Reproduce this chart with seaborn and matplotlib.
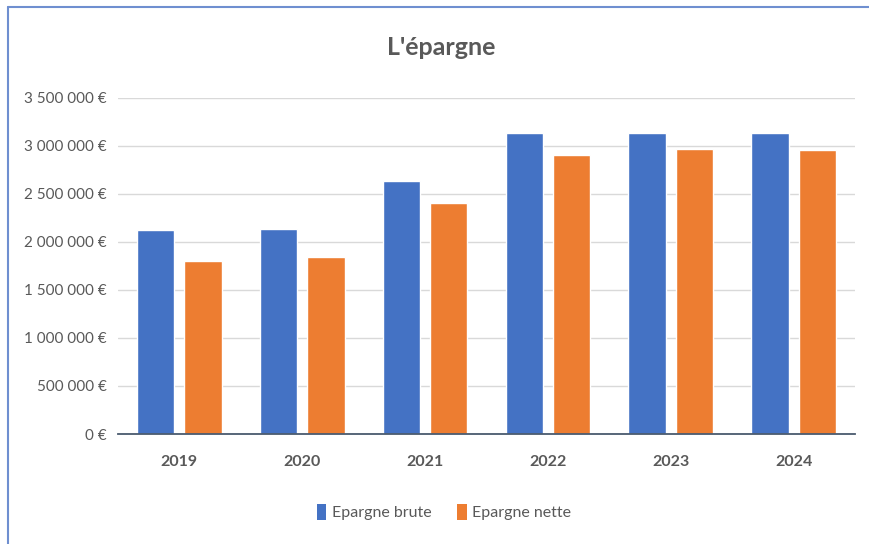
import matplotlib
matplotlib.use("Agg")
import matplotlib.pyplot as plt
import seaborn as sns
import pandas as pd
from matplotlib.ticker import FuncFormatter
from matplotlib.patches import Patch
from matplotlib.lines import Line2D

years = ["2019", "2020", "2021", "2022", "2023", "2024"]
brute = [2130000, 2140000, 2640000, 3140000, 3140000, 3140000]
nette = [1800000, 1840000, 2410000, 2910000, 2970000, 2960000]
series = ["Epargne brute", "Epargne nette"]
colors = ["#4472C4", "#ED7D31"]

df = pd.DataFrame({
    "year": years * 2,
    "value": brute + nette,
    "serie": [series[0]] * len(years) + [series[1]] * len(years),
})

sns.set_theme(style="white")
plt.rcParams["font.family"] = ["Lato", "DejaVu Sans"]

fig = plt.figure(figsize=(8.69, 5.44), dpi=100)
ax = fig.add_axes([0.1358, 0.2022, 0.8482, 0.6177])

sns.barplot(data=df, x="year", y="value", hue="serie", palette=colors,
            width=0.77, gap=0.21, ax=ax, legend=False, saturation=1)

ax.set_ylim(0, 3500000)
ax.set_yticks(range(0, 3500001, 500000))

def fmt(v, pos):
    s = f"{int(v):,}".replace(",", " ")
    return f"{s} €"

ax.yaxis.set_major_formatter(FuncFormatter(fmt))
ax.grid(axis="y", color="#d9d9d9", linewidth=1)
ax.set_axisbelow(True)
for side in ["top", "right", "left"]:
    ax.spines[side].set_visible(False)
ax.spines["bottom"].set_color("#4a5a6e")
ax.spines["bottom"].set_linewidth(1.3)
ax.set_xlabel("")
ax.set_ylabel("")
ax.tick_params(axis="y", colors="#595959", labelsize=11, length=0, pad=8)
ax.tick_params(axis="x", colors="#595959", labelsize=11.5, length=0, pad=15)
for lab in ax.get_xticklabels():
    lab.set_fontweight("bold")
ax.set_xlim(-0.5, len(years) - 0.5)

fig.text(0.508, 0.912, "L'épargne", ha="center", va="center",
         fontsize=18, fontweight="bold", color="#595959")

handles = [Patch(facecolor=c, edgecolor="none") for c in colors]
fig.legend(handles, series, loc="center", bbox_to_anchor=(0.511, 0.058),
           ncol=2, frameon=False, fontsize=11.5, handlelength=0.6,
           handleheight=1.1, handletextpad=0.35, columnspacing=1.6,
           labelcolor="#595959")

# frame lines (top and left)
fig.add_artist(Line2D([8 / 869, 1], [1 - 7 / 544, 1 - 7 / 544],
                      transform=fig.transFigure, color="#6f8fd0", linewidth=1.5))
fig.add_artist(Line2D([8 / 869, 8 / 869], [0, 1 - 7 / 544],
                      transform=fig.transFigure, color="#6f8fd0", linewidth=1.5))

fig.savefig("out.png", dpi=100)
